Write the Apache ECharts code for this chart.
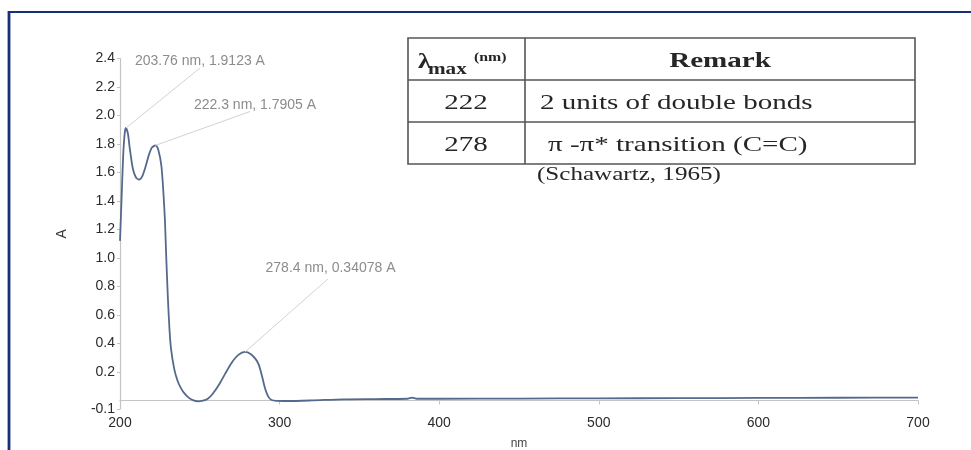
<!DOCTYPE html>
<html>
<head>
<meta charset="utf-8">
<title>UV-Vis spectrum</title>
<script src="https://cdn.jsdelivr.net/npm/echarts@6/dist/echarts.min.js"></script>
<style>
  html, body { margin: 0; padding: 0; background: #ffffff; }
  #chart { width: 971px; height: 450px; }
</style>
</head>
<body>
<div id="chart"></div>
<script>
// Spectrum: wavelength (nm) and absorbance (A)
const wavelength = [200, 201, 202, 203, 203.76, 205, 206, 208, 210, 212, 214, 216, 218, 220, 222.3,
  224, 226, 228, 229, 230, 231, 232, 234, 236, 238, 240, 243, 246, 249, 252, 255, 258, 262, 266,
  270, 274, 278.4, 282, 285, 287, 289, 291, 293, 295, 298, 305, 320, 340, 360, 380, 383, 386,
  400, 450, 500, 550, 600, 650, 700];
const absorbance = [1.12, 1.42, 1.72, 1.88, 1.9123, 1.87, 1.78, 1.63, 1.565, 1.55, 1.575, 1.64, 1.72, 1.775, 1.7905,
  1.76, 1.64, 1.3, 1.0, 0.72, 0.5, 0.36, 0.22, 0.14, 0.09, 0.055, 0.02, 0.0, -0.006, -0.002, 0.012, 0.045, 0.11, 0.19,
  0.265, 0.318, 0.34078, 0.325, 0.29, 0.25, 0.17, 0.08, 0.025, 0.003, -0.003, -0.004, 0.0, 0.008, 0.01, 0.012, 0.02, 0.012,
  0.012, 0.013, 0.015, 0.016, 0.018, 0.019, 0.02];

// Labelled maxima
const peakNm = [203.76, 222.3, 278.4];
const peakAbs = [1.9123, 1.7905, 0.34078];

// Axis ticks
const xTicks = [200, 300, 400, 500, 600, 700];
const yTickValues = [-0.06, 0.2, 0.4, 0.6, 0.8, 1.0, 1.2, 1.4, 1.6, 1.8, 2.0, 2.2, 2.4];
const yTickLabels = ['-0.1', '0.2', '0.4', '0.6', '0.8', '1.0', '1.2', '1.4', '1.6', '1.8', '2.0', '2.2', '2.4'];

// Summary table
const tableHeader = ['Remark'];
const lambdaParts = ['λ', 'max', '(nm)'];
const tableRows = [
  ['222', '2 units of double bonds'],
  ['278', 'π -π* transition (C=C)']
];
const citation = '(Schawartz, 1965)';

// Callout placement in data space: leader-line end and text centre for each peak
const calloutLineEnd = [[250.1, 2.333], [281.5, 2.028], [330.3, 0.853]];
const calloutText = [[250.1, 2.383], [284.6, 2.072], [331.9, 0.93]];

const seriesData = wavelength.map((w, i) => [w, absorbance[i]]);
const peakLabel = i => peakNm[i] + ' nm, ' + peakAbs[i] + ' A';

const serif = '"Liberation Serif", "Times New Roman", serif';
const sans = '"Liberation Sans", Arial, sans-serif';
const stretch = 1.32;

function tText(x, y, text, font, align) {
  return {
    type: 'text', x: x, y: y, scaleX: stretch, silent: true,
    style: {
      x: 0, y: 0, text: text, font: font, fill: '#262626',
      align: align, textAlign: align, verticalAlign: 'middle', textVerticalAlign: 'middle'
    }
  };
}

const tableGraphics = [
  { type: 'rect', shape: { x: 408, y: 38, width: 507, height: 126 },
    style: { fill: 'none', stroke: '#555', lineWidth: 1.6 }, silent: true },
  { type: 'line', shape: { x1: 408, y1: 80, x2: 915, y2: 80 }, style: { stroke: '#555', lineWidth: 1.6 }, silent: true },
  { type: 'line', shape: { x1: 408, y1: 122, x2: 915, y2: 122 }, style: { stroke: '#555', lineWidth: 1.6 }, silent: true },
  { type: 'line', shape: { x1: 525, y1: 38, x2: 525, y2: 164 }, style: { stroke: '#555', lineWidth: 1.6 }, silent: true },
  tText(418, 63, lambdaParts[0], 'bold 20px ' + serif, 'left'),
  tText(428, 70, lambdaParts[1], 'bold 16px ' + serif, 'left'),
  tText(474, 58, lambdaParts[2], 'bold 12px ' + serif, 'left'),
  tText(720, 61, tableHeader[0], 'bold 22px ' + serif, 'center'),
  tText(466, 103, tableRows[0][0], '22px ' + serif, 'center'),
  tText(540, 103, tableRows[0][1], '22px ' + serif, 'left'),
  tText(466, 145, tableRows[1][0], '22px ' + serif, 'center'),
  tText(548, 145, tableRows[1][1], '22px ' + serif, 'left'),
  tText(537, 175, citation, '19px ' + serif, 'left')
];

const frameGraphics = [
  { type: 'line', shape: { x1: 8, y1: 12, x2: 971, y2: 12 }, style: { stroke: '#17307a', lineWidth: 2.2 }, silent: true },
  { type: 'line', shape: { x1: 9, y1: 11, x2: 9, y2: 450 }, style: { stroke: '#17307a', lineWidth: 2.8 }, silent: true }
];

const chart = echarts.init(document.getElementById('chart'), null, { renderer: 'canvas' });

chart.setOption({
  animation: false,
  backgroundColor: '#ffffff',
  grid: { left: 120, right: 53, top: 58.5, bottom: 41, containLabel: false, outerBoundsMode: 'none' },
  xAxis: {
    type: 'value', min: xTicks[0], max: xTicks[xTicks.length - 1], interval: 100,
    name: 'nm', nameLocation: 'middle', nameGap: 29,
    nameTextStyle: { fontFamily: sans, fontSize: 12, color: '#444' },
    axisLine: { lineStyle: { color: '#c4c4c4', width: 1.2 } },
    axisTick: { show: true, length: 4, lineStyle: { color: '#c4c4c4' } },
    axisLabel: { margin: 7, fontFamily: sans, fontSize: 14, color: '#2b2b2b' },
    splitLine: { show: false }
  },
  yAxis: {
    type: 'value', min: yTickValues[0], max: yTickValues[yTickValues.length - 1],
    name: 'A', nameLocation: 'middle', nameGap: 51,
    nameTextStyle: { fontFamily: sans, fontSize: 14, color: '#333' },
    axisLine: { show: true, lineStyle: { color: '#c4c4c4', width: 1.2 } },
    axisTick: { show: true, length: 3, customValues: yTickValues, lineStyle: { color: '#c4c4c4' } },
    axisLabel: {
      margin: 5, fontFamily: sans, fontSize: 14, color: '#2b2b2b',
      customValues: yTickValues,
      formatter: v => {
        const i = yTickValues.findIndex(t => Math.abs(t - v) < 1e-6);
        return i >= 0 ? yTickLabels[i] : '';
      }
    },
    splitLine: { show: false }
  },
  series: [{
    type: 'line',
    data: seriesData,
    smooth: 0.25,
    showSymbol: false,
    symbol: 'none',
    lineStyle: { color: '#56698c', width: 1.8 },
    z: 3,
    markLine: {
      silent: true,
      symbol: ['none', 'none'],
      label: { show: false },
      lineStyle: { color: '#d2d2d2', width: 1, type: 'solid' },
      data: peakNm.map((nm, i) => [
        { coord: [nm, peakAbs[i]] },
        { coord: calloutLineEnd[i] }
      ])
    },
    markPoint: {
      silent: true,
      symbol: 'rect',
      symbolSize: 1,
      itemStyle: { color: 'rgba(0,0,0,0)' },
      label: {
        show: true, position: 'inside',
        fontFamily: sans, fontSize: 14, color: '#8c8c8c'
      },
      data: calloutText.map((c, i) => ({
        coord: c,
        label: { formatter: () => peakLabel(i) }
      }))
    }
  }],
  graphic: frameGraphics.concat(tableGraphics)
});
</script>
</body>
</html>
